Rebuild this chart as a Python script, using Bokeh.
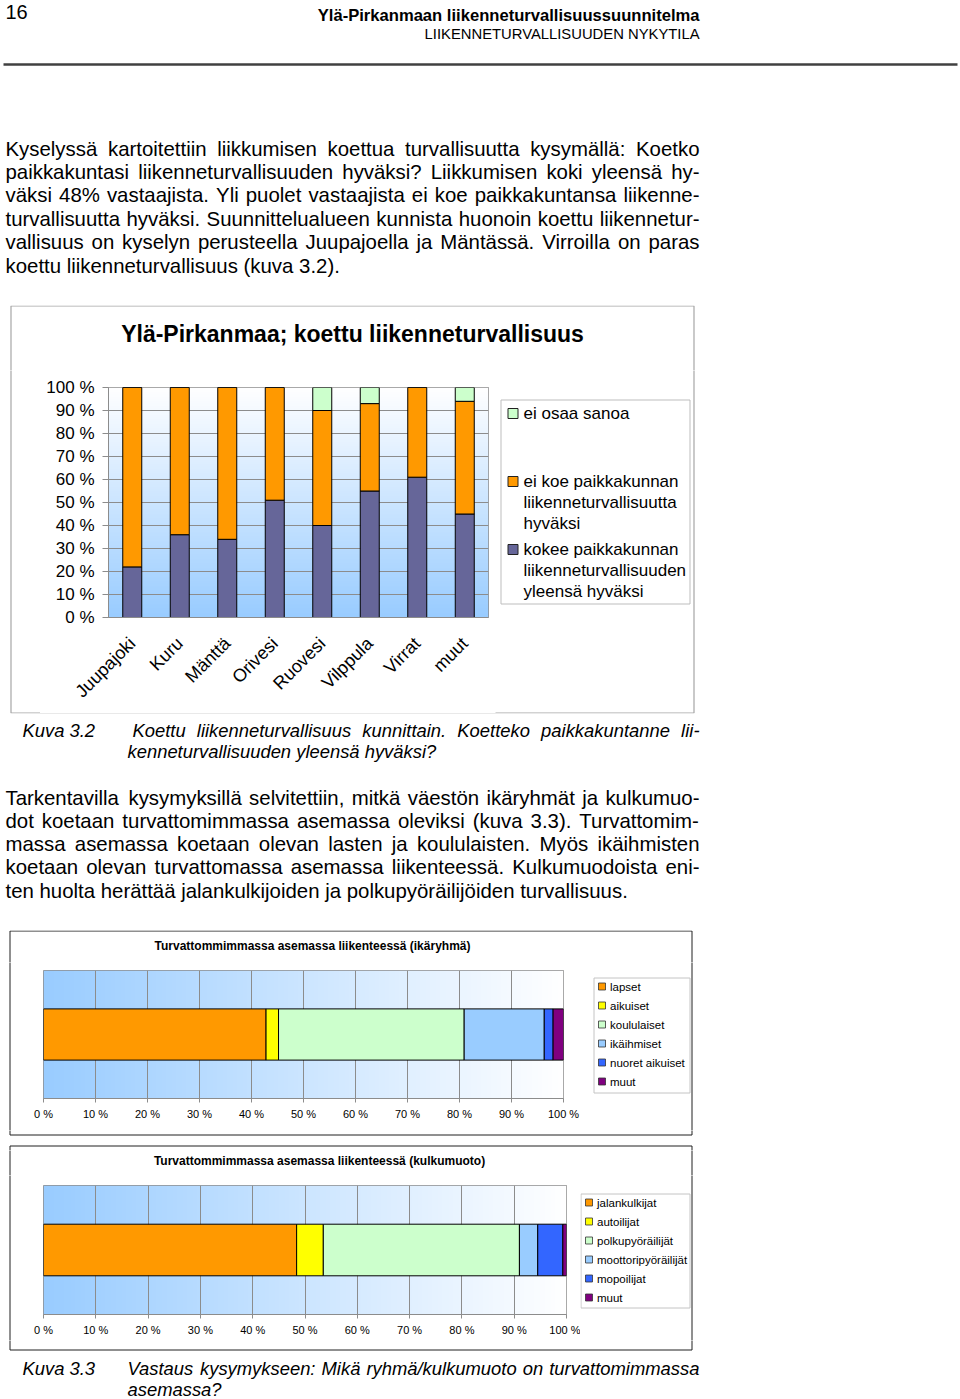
import math
import numpy as np
from bokeh.plotting import figure
from bokeh.models import Range1d, FactorRange, ColumnDataSource, FixedTicker
from bokeh.layouts import column, row
from bokeh.core.properties import value
from bokeh.embed import file_html
from bokeh.resources import INLINE

FONT = "Liberation Sans"

# ---------------- data ----------------
KUNNAT = ["Juupajoki", "Kuru", "Mänttä", "Orivesi", "Ruovesi", "Vilppula", "Virrat", "muut"]
KOKEE = [22, 36, 34, 51, 40, 55, 61, 45]
EI_KOE = [78, 64, 66, 49, 50, 38, 39, 49]
EI_OSAA = [0, 0, 0, 0, 10, 7, 0, 6]
SERIES1 = ["kokee paikkakunnan liikenneturvallisuuden yleensä hyväksi",
           "ei koe paikkakunnan liikenneturvallisuutta hyväksi",
           "ei osaa sanoa"]
LEGEND1_LABELS = ["kokee paikkakunnan\nliikenneturvallisuuden\nyleensä hyväksi",
                  "ei koe paikkakunnan\nliikenneturvallisuutta\nhyväksi",
                  "ei osaa sanoa"]
COLORS1 = ["#666699", "#FF9900", "#CCFFCC"]
Y1_TICKS = [0, 10, 20, 30, 40, 50, 60, 70, 80, 90, 100]
Y1_LABELS = ["0 %", "10 %", "20 %", "30 %", "40 %", "50 %", "60 %", "70 %", "80 %", "90 %", "100 %"]
TITLE1 = "Ylä-Pirkanmaa; koettu liikenneturvallisuus"

CAT2 = ["ikäryhmä"]
GROUPS2 = ["lapset", "aikuiset", "koululaiset", "ikäihmiset", "nuoret aikuiset", "muut"]
VALUES2 = [42.8, 2.4, 35.7, 15.4, 1.7, 2.0]
TITLE2 = "Turvattommimmassa asemassa liikenteessä (ikäryhmä)"

CAT3 = ["kulkumuoto"]
GROUPS3 = ["jalankulkijat", "autoilijat", "polkupyöräilijät", "moottoripyöräilijät", "mopoilijat", "muut"]
VALUES3 = [48.4, 5.1, 37.5, 3.5, 4.8, 0.7]
TITLE3 = "Turvattommimmassa asemassa liikenteessä (kulkumuoto)"

COLORS23 = ["#FF9900", "#FFFF00", "#CCFFCC", "#99CCFF", "#3366FF", "#800080"]
X_TICKS = [0, 10, 20, 30, 40, 50, 60, 70, 80, 90, 100]
X_LABELS = ["0 %", "10 %", "20 %", "30 %", "40 %", "50 %", "60 %", "70 %", "80 %", "90 %", "100 %"]

PARA1 = ["Kyselyssä kartoitettiin liikkumisen koettua turvallisuutta kysymällä: Koetko",
         "paikkakuntasi liikenneturvallisuuden hyväksi? Liikkumisen koki yleensä hy-",
         "väksi 48% vastaajista. Yli puolet vastaajista ei koe paikkakuntansa liikenne-",
         "turvallisuutta hyväksi. Suunnittelualueen kunnista huonoin koettu liikennetur-",
         "vallisuus on kyselyn perusteella Juupajoella ja Mäntässä. Virroilla on paras",
         "koettu liikenneturvallisuus (kuva 3.2)."]
PARA2 = ["Tarkentavilla kysymyksillä selvitettiin, mitkä väestön ikäryhmät ja kulkumuo-",
         "dot koetaan turvattomimmassa asemassa oleviksi (kuva 3.3). Turvattomim-",
         "massa asemassa koetaan olevan lasten ja koululaisten. Myös ikäihmisten",
         "koetaan olevan turvattomassa asemassa liikenteessä. Kulkumuodoista eni-",
         "ten huolta herättää jalankulkijoiden ja polkupyöräilijöiden turvallisuus."]
CAP2 = ["Koettu liikenneturvallisuus kunnittain. Koetteko paikkakuntanne lii-",
        "kenneturvallisuuden yleensä hyväksi?"]
CAP3 = ["Vastaus kysymykseen: Mikä ryhmä/kulkumuoto on turvattomimmassa",
        "asemassa?"]

# ---------------- text metrics (Arial / Liberation Sans) ----------------
AW = {" ": 278, "!": 278, "\"": 355, "%": 889, "(": 333, ")": 333, ",": 278, "-": 333,
      ".": 278, "/": 278, ":": 278, ";": 278, "?": 556}
for ch in "0123456789":
    AW[ch] = 556
AW.update(dict(A=667, B=667, C=722, D=722, E=667, F=611, G=778, H=722, I=278, J=500, K=667,
               L=556, M=833, N=722, O=778, P=667, Q=778, R=722, S=667, T=611, U=722, V=667,
               W=944, X=667, Y=667, Z=611))
AW.update(dict(a=556, b=556, c=500, d=556, e=556, f=278, g=556, h=556, i=222, j=222, k=500,
               l=222, m=833, n=556, o=556, p=556, q=556, r=333, s=500, t=278, u=556, v=500,
               w=722, x=500, y=500, z=500))
AW.update({"ä": 556, "ö": 556, "å": 556, "Ä": 667, "Ö": 778})


def tw(s, fs):
    return sum(AW.get(c, 556) for c in s) * fs / 1000.0


def no_align(p):
    if "frame_align" in p.properties():
        p.frame_align = False


def pixfig(x0, x1, y0, y1):
    p = figure(width=x1 - x0, height=y1 - y0,
               x_range=Range1d(x0, x1), y_range=Range1d(y1, y0),
               x_axis_location=None, y_axis_location=None,
               output_backend="svg", toolbar_location=None, min_border=0)
    p.outline_line_color = None
    p.background_fill_color = "white"
    p.border_fill_color = "white"
    for g in p.grid:
        g.visible = False
    p.xgrid.visible = False
    p.ygrid.visible = False
    no_align(p)
    return p


def texts(p, xs, ys, ts, size, align="left", style="normal", color="black"):
    p.text(x=xs, y=ys, text=ts, text_font=value(FONT), text_font_size=size,
           text_font_style=style, text_align=align, text_baseline="middle",
           text_color=color)


def paragraph(p, lines, x0s, x1, y0, step, fs, style="normal"):
    xs, ys, ts = [], [], []
    for i, line in enumerate(lines):
        x0 = x0s[i] if isinstance(x0s, list) else x0s
        y = y0 + i * step
        words = line.split(" ")
        if i < len(lines) - 1 and len(words) > 1:
            widths = [tw(w, fs) for w in words]
            gap = (x1 - x0 - sum(widths)) / (len(words) - 1)
            x = x0
            for w, wd in zip(words, widths):
                xs.append(x)
                ys.append(y)
                ts.append(w)
                x += wd + gap
        else:
            xs.append(x0)
            ys.append(y)
            ts.append(line)
    texts(p, xs, ys, ts, f"{fs}px", style=style)


def box(p, l, r, t, b, color, width=1):
    p.quad(left=[l], right=[r], top=[t], bottom=[b], fill_color=None,
           line_color=color, line_width=width)


def gradient(c_from, c_to, n, horizontal):
    t = np.linspace(0.0, 1.0, n)
    shape = (1, n) if horizontal else (n, 1)
    img = np.empty(shape, dtype=np.uint32)
    view = img.view(dtype=np.uint8).reshape(shape + (4,))
    for k in range(3):
        ch = (c_from[k] + (c_to[k] - c_from[k]) * t).astype(np.uint8)
        if horizontal:
            view[0, :, k] = ch
        else:
            view[:, 0, k] = ch
    view[..., 3] = 255
    return img


BLUE = (153, 204, 255)
WHITE = (255, 255, 255)
BOX1 = (10.5, 693.5, 305.5, 712.5)
BOX2 = (9.5, 691.5, 930.5, 1134.5)
BOX3 = (9.5, 691.5, 1145.5, 1349.5)
BOX1_COLOR = "#a6a6a6"
BOX23_COLOR = "#202020"

# ---------------- top strip: header + paragraph ----------------
top = pixfig(0, 960, 0, 305)
texts(top, [5], [11], ["16"], "20px")
texts(top, [699], [15], ["Ylä-Pirkanmaan liikenneturvallisuussuunnitelma"], "16.6px",
      align="right", style="bold")
texts(top, [699], [33], ["LIIKENNETURVALLISUUDEN NYKYTILA"], "14.8px", align="right")
top.segment(x0=[3], y0=[64], x1=[957], y1=[64], line_color="#404040", line_width=2.5)
paragraph(top, PARA1, 5, 699, 148, 23.4, 20.4)

# ---------------- chart 1 ----------------
c1_top = pixfig(0, 960, 305, 370)
box(c1_top, *BOX1, BOX1_COLOR, 1.2)
texts(c1_top, [352], [333], [TITLE1], "23px", align="center", style="bold")

c1_left = pixfig(0, 40, 370, 713)
box(c1_left, *BOX1, BOX1_COLOR, 1.2)

src1 = ColumnDataSource(dict(kunta=KUNNAT, kokee=KOKEE, eikoe=EI_KOE, eiosaa=EI_OSAA))
c1 = figure(x_range=FactorRange(factors=KUNNAT), y_range=Range1d(0, 100),
            width=455, height=343, min_border_left=68, min_border_right=7,
            min_border_top=17, min_border_bottom=96,
            output_backend="svg", toolbar_location=None)
no_align(c1)
c1.image_rgba(image=[gradient(BLUE, WHITE, 256, False)], x=0, y=0,
              dw=len(KUNNAT), dh=100, level="image")
c1.vbar_stack(["kokee", "eikoe", "eiosaa"], x="kunta", width=0.4, color=COLORS1,
              line_color="black", line_width=1, source=src1)
c1.background_fill_color = "white"
c1.border_fill_color = "white"
c1.outline_line_color = "#8c8c8c"
c1.xgrid.visible = False
c1.ygrid.ticker = FixedTicker(ticks=Y1_TICKS)
c1.ygrid.grid_line_color = "#8c8c8c"
c1.yaxis.ticker = FixedTicker(ticks=Y1_TICKS)
c1.yaxis.major_label_overrides = dict(zip(Y1_TICKS, Y1_LABELS))
c1.yaxis.minor_tick_line_color = None
c1.yaxis.major_tick_out = 6
c1.yaxis.major_tick_in = 0
c1.yaxis.major_tick_line_color = "#8c8c8c"
c1.yaxis.axis_line_color = "#8c8c8c"
c1.yaxis.major_label_text_font = FONT
c1.yaxis.major_label_text_font_size = "17px"
c1.yaxis.major_label_text_color = "black"
c1.yaxis.major_label_standoff = 8
c1.xaxis.major_label_orientation = math.pi / 4
c1.xaxis.major_tick_out = 0
c1.xaxis.major_tick_in = 0
c1.xaxis.major_tick_line_color = None
c1.xaxis.axis_line_color = "#8c8c8c"
c1.xaxis.major_label_text_font = FONT
c1.xaxis.major_label_text_font_size = "18px"
c1.xaxis.major_label_text_color = "black"
c1.xaxis.major_label_standoff = 23

c1_right = pixfig(495, 960, 370, 713)
box(c1_right, *BOX1, BOX1_COLOR, 1.2)
box(c1_right, 500.5, 689.5, 399.5, 603.5, "#bdbdbd")
leg_top = [413, 481, 549]
order1 = list(reversed(range(len(SERIES1))))
lx, ly, lt = [], [], []
for pos, si in enumerate(order1):
    yc = leg_top[pos]
    c1_right.quad(left=[507.5], right=[517.5], top=[yc - 5], bottom=[yc + 5],
                  fill_color=COLORS1[si], line_color="#222222", line_width=1)
    for j, ln in enumerate(LEGEND1_LABELS[si].split("\n")):
        lx.append(523)
        ly.append(yc + 21 * j)
        lt.append(ln)
texts(c1_right, lx, ly, lt, "17px")

# ---------------- middle strip: caption 3.2 + paragraph 2 ----------------
mid = pixfig(0, 960, 713, 930)
box(mid, *BOX1, BOX1_COLOR, 1.2)
texts(mid, [22], [730], ["Kuva 3.2"], "18.4px", style="italic")
paragraph(mid, CAP2, [132, 127], 699, 730, 21, 18.4, style="italic")
paragraph(mid, PARA2, 5, 699, 797, 23.3, 20.4)


def hbar_chart(cats, groups, values, width, height, bl, br, bt, bb):
    src = ColumnDataSource({"cat": cats, **{f"v{i}": [v] for i, v in enumerate(values)}})
    c = figure(y_range=FactorRange(factors=cats), x_range=Range1d(0, 100),
               width=width, height=height, min_border_left=bl, min_border_right=br,
               min_border_top=bt, min_border_bottom=bb, y_axis_location=None,
               output_backend="svg", toolbar_location=None)
    no_align(c)
    c.image_rgba(image=[gradient(BLUE, WHITE, 256, True)], x=0, y=0, dw=100,
                 dh=len(cats), level="image")
    c.hbar_stack([f"v{i}" for i in range(len(values))], y="cat", height=0.4,
                 color=COLORS23, line_color="black", line_width=1, source=src)
    c.background_fill_color = "white"
    c.border_fill_color = "white"
    c.outline_line_color = "#8c8c8c"
    c.ygrid.visible = False
    c.xgrid.ticker = FixedTicker(ticks=X_TICKS)
    c.xgrid.grid_line_color = "#8c8c8c"
    c.xaxis.ticker = FixedTicker(ticks=X_TICKS)
    c.xaxis.major_label_overrides = dict(zip(X_TICKS, X_LABELS))
    c.xaxis.minor_tick_line_color = None
    c.xaxis.major_tick_out = 4
    c.xaxis.major_tick_in = 0
    c.xaxis.major_tick_line_color = "#8c8c8c"
    c.xaxis.axis_line_color = "#8c8c8c"
    c.xaxis.major_label_text_font = FONT
    c.xaxis.major_label_text_font_size = "11px"
    c.xaxis.major_label_text_color = "black"
    c.xaxis.major_label_standoff = 5
    return c


def small_legend(p, groups, bx0, bx1, by0, by1, y0):
    box(p, bx0, bx1, by0, by1, "#c4c4c4")
    xs, ys = [], []
    for i, g in enumerate(groups):
        yc = y0 + 19 * i
        p.quad(left=[bx0 + 4.5], right=[bx0 + 11.5], top=[yc - 3.5], bottom=[yc + 3.5],
               fill_color=COLORS23[i], line_color="#333333", line_width=0.8)
        xs.append(bx0 + 16)
        ys.append(yc)
    texts(p, xs, ys, groups, "11.5px")


# ---------------- chart 2 ----------------
c2_top = pixfig(0, 960, 930, 962)
box(c2_top, *BOX2, BOX23_COLOR)
texts(c2_top, [312], [945], [TITLE2], "12px", align="center", style="bold")

c2_left = pixfig(0, 25, 962, 1130)
box(c2_left, *BOX2, BOX23_COLOR)
c2 = hbar_chart(CAT2, GROUPS2, VALUES2, 563, 168, 18, 25, 8, 32)
c2_right = pixfig(588, 960, 962, 1130)
box(c2_right, *BOX2, BOX23_COLOR)
small_legend(c2_right, GROUPS2, 593.5, 689.5, 977.5, 1092.5, 986)

gap = pixfig(0, 960, 1130, 1150)
box(gap, *BOX2, BOX23_COLOR)
box(gap, *BOX3, BOX23_COLOR)

# ---------------- chart 3 ----------------
c3_top = pixfig(0, 960, 1150, 1175)
box(c3_top, *BOX3, BOX23_COLOR)
texts(c3_top, [319], [1160], [TITLE3], "12px", align="center", style="bold")

c3_left = pixfig(0, 25, 1175, 1340)
box(c3_left, *BOX3, BOX23_COLOR)
c3 = hbar_chart(CAT3, GROUPS3, VALUES3, 555, 165, 18, 14, 10, 26)
c3_right = pixfig(580, 960, 1175, 1340)
box(c3_right, *BOX3, BOX23_COLOR)
small_legend(c3_right, GROUPS3, 580.5, 689.5, 1193.5, 1307.5, 1202)

bottom = pixfig(0, 960, 1340, 1399)
box(bottom, *BOX3, BOX23_COLOR)
texts(bottom, [22], [1368], ["Kuva 3.3"], "18.4px", style="italic")
paragraph(bottom, CAP3, 127, 699, 1368, 21, 18.4, style="italic")

layout = column(
    top,
    c1_top,
    row(c1_left, c1, c1_right),
    mid,
    c2_top,
    row(c2_left, c2, c2_right),
    gap,
    c3_top,
    row(c3_left, c3, c3_right),
    bottom,
)

open("out.html", "w").write(file_html(layout, INLINE))
